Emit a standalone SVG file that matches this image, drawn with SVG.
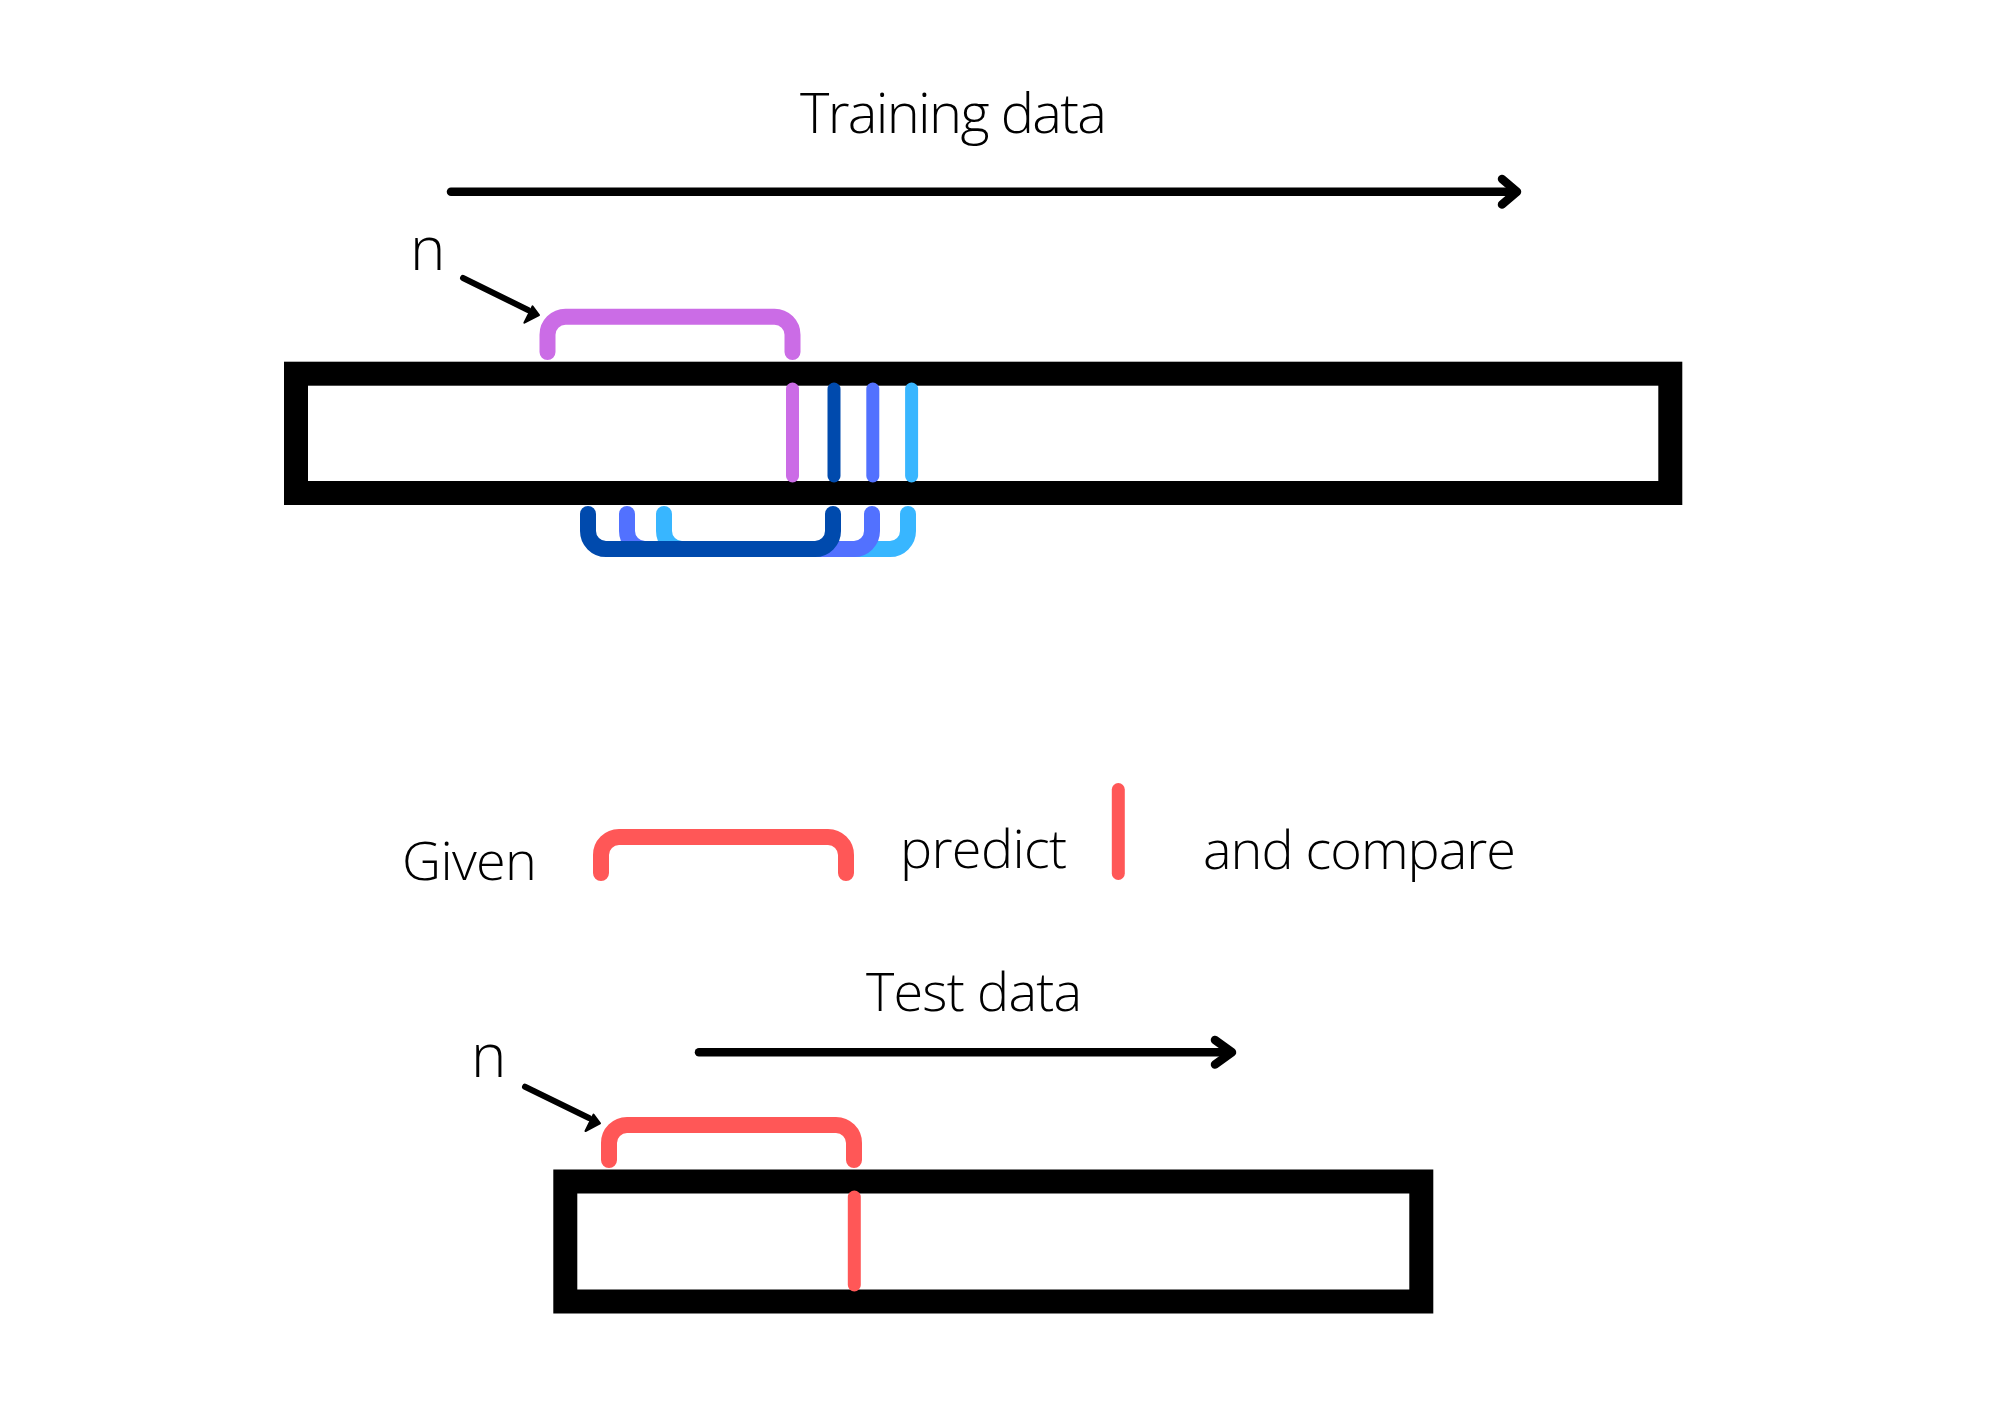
<svg xmlns="http://www.w3.org/2000/svg" width="2000" height="1414" viewBox="0 0 2000 1414">
  <style>
    .txt { font-family: "Open Sans", "Liberation Sans", sans-serif; font-weight: 300; fill: #000000; }
    .bar { fill: none; stroke: #000000; stroke-width: 24; }
    .brk { fill: none; stroke-width: 16; stroke-linecap: round; stroke-linejoin: round; }
    .tick { fill: none; stroke-width: 13; stroke-linecap: round; }
    .arrow { fill: none; stroke: #000000; stroke-width: 8.5; stroke-linecap: round; stroke-linejoin: round; }
    .pointer { fill: none; stroke: #000000; stroke-width: 6; stroke-linecap: round; }
    .head { fill: #000000; stroke: #000000; stroke-width: 2; stroke-linejoin: round; }
    .mag { stroke: #CB6CE6; }
    .dblue { stroke: #004AAD; }
    .mblue { stroke: #5271FF; }
    .lblue { stroke: #38B6FF; }
    .red { stroke: #FF5757; }
  </style>
  <rect x="0" y="0" width="2000" height="1414" fill="#FFFFFF"/>

  <g id="training-title">
    <text class="txt" x="800" y="133" font-size="56" textLength="307" lengthAdjust="spacing">Training data</text>
  </g>

  <g id="n-top">
    <text class="txt" x="410" y="270" font-size="60">n</text>
  </g>

  <g id="training-bar">
    <rect class="bar" x="296" y="373.7" width="1374.3" height="119.3"/>
  </g>

  <g id="training-window-magenta">
    <path class="brk mag" d="M547.5,352 V334.7 A18,18 0 0 1 565.5,316.7 H774.5 A18,18 0 0 1 792.5,334.7 V352"/>
    <line class="tick mag" x1="792.5" y1="389" x2="792.5" y2="476"/>
  </g>

  <g id="training-window-lightblue">
    <path class="brk lblue" d="M664,514 V531 A18,18 0 0 0 682,549 H890 A18,18 0 0 0 908,531 V514"/>
    <line class="tick lblue" x1="911.6" y1="389" x2="911.6" y2="476"/>
  </g>

  <g id="training-window-mediumblue">
    <path class="brk mblue" d="M627,514 V531 A18,18 0 0 0 645,549 H854 A18,18 0 0 0 872,531 V514"/>
    <line class="tick mblue" x1="872.8" y1="389" x2="872.8" y2="476"/>
  </g>

  <g id="training-window-darkblue">
    <path class="brk dblue" d="M588,514 V531 A18,18 0 0 0 606,549 H815 A18,18 0 0 0 833,531 V514"/>
    <line class="tick dblue" x1="834" y1="389" x2="834" y2="476"/>
  </g>

  <g id="legend">
    <text class="txt" x="402" y="880" font-size="54" textLength="135" lengthAdjust="spacing">Given</text>
    <path class="brk red" d="M601,873 V855 A18,18 0 0 1 619,837 H828 A18,18 0 0 1 846,855 V873"/>
    <text class="txt" x="900" y="868" font-size="54" textLength="167" lengthAdjust="spacing">predict</text>
    <line class="tick red" x1="1118.3" y1="789.5" x2="1118.3" y2="873.5"/>
    <text class="txt" x="1203" y="869" font-size="54" textLength="313" lengthAdjust="spacing">and compare</text>
  </g>

  <g id="test-title">
    <text class="txt" x="866" y="1011" font-size="54" textLength="216" lengthAdjust="spacing">Test data</text>
  </g>

  <g id="n-bottom">
    <text class="txt" x="471" y="1077.3" font-size="60">n</text>
  </g>

  <g id="test-bar">
    <rect class="bar" x="565.3" y="1181.5" width="856" height="120"/>
  </g>

  <g id="test-window">
    <path class="brk red" d="M609,1160 V1143 A18,18 0 0 1 627,1125 H836 A18,18 0 0 1 854,1143 V1160"/>
    <line class="tick red" x1="854.3" y1="1197" x2="854.3" y2="1285" stroke-width="12.5"/>
  </g>

  <g id="connectors">
    <line class="arrow" x1="451" y1="191.7" x2="1516" y2="191.7"/>
    <polyline class="arrow" points="1502,179 1517,191.7 1502,204.5"/>
    <line class="arrow" x1="699" y1="1052.3" x2="1229" y2="1052.3"/>
    <polyline class="arrow" points="1215,1040 1232,1052.3 1215,1064.5"/>
    <line class="pointer" x1="463" y1="278" x2="528" y2="310"/>
    <polygon class="head" points="539,315 524.4,322.7 532.5,306.4"/>
    <line class="pointer" x1="525" y1="1086.7" x2="589" y2="1118"/>
    <polygon class="head" points="600,1123.3 585.5,1131 593.5,1114.6"/>
  </g>
</svg>
